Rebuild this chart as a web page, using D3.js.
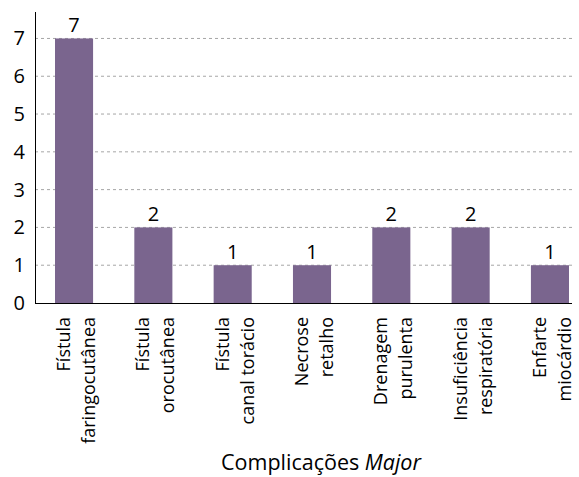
<!DOCTYPE html>
<html>
<head>
<meta charset="utf-8">
<script src="https://cdn.jsdelivr.net/npm/d3@7"></script>
<style>
  body { margin: 0; background: #fff; }
  text { font-family: "Open Sans", sans-serif; fill: #000; }
</style>
</head>
<body>
<svg id="chart" width="579" height="477"></svg>
<script>
// chart data
var categories = [
  ["Fístula", "faringocutânea"],
  ["Fístula", "orocutânea"],
  ["Fístula", "canal torácio"],
  ["Necrose", "retalho"],
  ["Drenagem", "purulenta"],
  ["Insuficiência", "respiratória"],
  ["Enfarte", "miocárdio"]
];
var values = [7, 2, 1, 1, 2, 2, 1];
var yTicks = [0, 1, 2, 3, 4, 5, 6, 7];

var svg = d3.select('#chart');
var margin = {left: 35, right: 7, top: 12, bottom: 174};
var width = 579 - margin.left - margin.right;
var height = 477 - margin.top - margin.bottom;

var g = svg.append('g')
           .attr('transform', 'translate(' + margin.left + ',' + margin.top + ')');

var x = d3.scaleBand()
          .domain(d3.range(categories.length))
          .range([20, width - 3])
          .paddingInner(0.52)
          .paddingOuter(0);

var y = d3.scaleLinear()
          .domain([0, 7.7])
          .range([height, 0]);

// gridlines
g.selectAll('line.grid')
 .data(yTicks.slice(1))
 .enter().append('line')
 .attr('class', 'grid')
 .attr('x1', 0).attr('x2', width)
 .attr('y1', function(d) {return y(d);})
 .attr('y2', function(d) {return y(d);})
 .attr('stroke', '#a6a6a6')
 .attr('stroke-width', 1)
 .attr('stroke-dasharray', '3,3');

// bars
g.selectAll('rect.bar')
 .data(values)
 .enter().append('rect')
 .attr('class', 'bar')
 .attr('x', function(d, i) {return x(i);})
 .attr('y', function(d) {return y(d);})
 .attr('width', x.bandwidth())
 .attr('height', function(d) {return height - y(d);})
 .attr('fill', '#7a658e');

// value labels
g.selectAll('text.val')
 .data(values)
 .enter().append('text')
 .attr('class', 'val')
 .attr('x', function(d, i) {return x(i) + x.bandwidth() / 2;})
 .attr('y', function(d) {return y(d) - 6;})
 .attr('text-anchor', 'middle')
 .style('font-size', '20px')
 .text(function(d) {return d;});

// y axis
var yAxis = d3.axisLeft(y).tickValues(yTicks).tickSize(0).tickPadding(10);
var ya = g.append('g').call(yAxis);
ya.select('.domain').attr('stroke', '#000').attr('d', 'M0.5,0V' + height);
ya.selectAll('text').style('font-size', '20px').style('font-family', '"Open Sans", sans-serif');

// x axis line
g.append('line')
 .attr('x1', 0).attr('x2', width)
 .attr('y1', height + 0.5).attr('y2', height + 0.5)
 .attr('stroke', '#000');

// category labels, rotated
var labels = g.selectAll('g.cat')
 .data(categories)
 .enter().append('g')
 .attr('class', 'cat')
 .attr('transform', function(d, i) {
   return 'translate(' + (x(i) + x.bandwidth() / 2) + ',' + (height + 14) + ') rotate(-90)';
 });

labels.each(function(d) {
  var t = d3.select(this);
  d.forEach(function(line, j) {
    t.append('text')
     .attr('x', 0)
     .attr('y', j * 25 - 4)
     .attr('text-anchor', 'end')
     .style('font-size', '18px')
     .text(line);
  });
});

// axis title
var title = svg.append('text')
 .attr('x', 321)
 .attr('y', 470)
 .attr('text-anchor', 'middle')
 .style('font-size', '21.5px');
title.append('tspan').text('Complicações ');
title.append('tspan').style('font-style', 'italic').text('Major');
</script>
</body>
</html>
